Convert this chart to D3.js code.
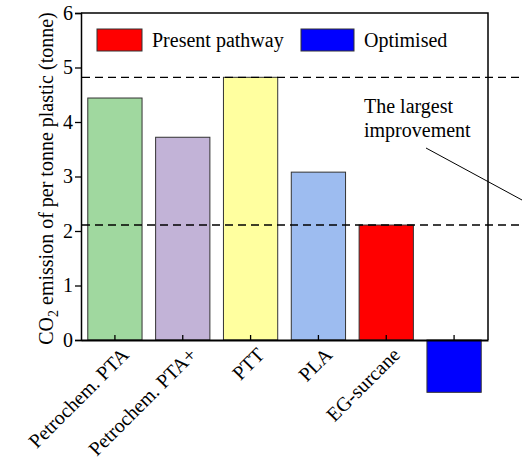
<!doctype html>
<html lang="en">
<head>
<meta charset="utf-8">
<title>CO2 emission per tonne plastic</title>
<script src="https://cdn.jsdelivr.net/npm/d3@7"></script>
<style>
  body { margin: 0; background: #fff; }
  .bar { stroke: #333; stroke-width: 1; }
  .ref { fill: none; stroke: #000; stroke-width: 1.3; stroke-dasharray: 8,5; }
</style>
</head>
<body>
<svg width="522" height="459"></svg>
<script>

// data
var categories = ["Petrochem. PTA", "Petrochem. PTA+", "PTT", "PLA", "EG-surcane", "Optimised"];
var tickLabels = ["Petrochem. PTA", "Petrochem. PTA+", "PTT", "PLA", "EG-surcane", ""];
var values = [4.44, 3.72, 4.82, 3.08, 2.11, -0.96];
var colors = ["#a0d89f", "#c2b3d7", "#ffff9f", "#9dbcf0", "#ff0000", "#0000ff"];
var refLines = [4.82, 2.11];
var yTicks = [0, 1, 2, 3, 4, 5, 6];
var legendNames = ["Present pathway", "Optimised"];
var legendColors = ["#ff0000", "#0000ff"];

var serif = "Liberation Serif";

var svg = d3.select("svg"),
    margin = {top: 13, right: 34, bottom: 119, left: 81},
    width = 522 - margin.left - margin.right,
    height = 459 - margin.top - margin.bottom,
    g = svg.append("g").attr("transform", "translate(" + margin.left + "," + margin.top + ")");

var x = d3.scaleBand().domain(categories).range([0, width]).paddingInner(0.2).paddingOuter(0.1),
    y = d3.scaleLinear().domain([0, 6]).range([height, 0]);

// bars
g.selectAll(".bar")
  .data(values)
  .enter().append("rect")
    .attr("class", "bar")
    .attr("x", function(d, i) { return x(categories[i]); })
    .attr("width", x.bandwidth())
    .attr("y", function(d) { return y(Math.max(0, d)); })
    .attr("height", function(d) { return Math.abs(y(d) - y(0)); })
    .style("fill", function(d, i) { return colors[i]; });

// frame: top and right
g.append("path")
    .attr("d", "M0,0H" + width + "V" + height)
    .attr("fill", "none").attr("stroke", "#000").attr("stroke-width", 1.5);

// y axis
var yAxis = g.append("g")
    .call(d3.axisLeft(y).tickValues(yTicks).tickFormat(d3.format("d")).tickSize(6).tickPadding(2));
yAxis.attr("font-family", serif).attr("font-size", 20);
yAxis.select(".domain").attr("stroke-width", 1.5);
yAxis.selectAll(".tick line").attr("stroke-width", 1.3);

// x axis at zero, ticks pointing inward
var xAxis = g.append("g")
    .attr("transform", "translate(0," + y(0) + ")")
    .call(d3.axisTop(x).tickSize(5).tickSizeOuter(0).tickFormat(""));
xAxis.select(".domain").attr("stroke-width", 2);
xAxis.selectAll(".tick line").attr("stroke-width", 1.3);

// rotated category labels
g.append("g").selectAll("text")
  .data(tickLabels)
  .enter().append("text")
    .attr("transform", function(d, i) {
      return "translate(" + (x(categories[i]) + x.bandwidth() / 2 + 15) + "," + (y(0) + 16) + ") rotate(-45)";
    })
    .attr("text-anchor", "end")
    .attr("font-family", serif)
    .attr("font-size", 20)
    .text(function(d) { return d; });

// dashed reference lines, running out past the frame
g.selectAll(".ref")
  .data(refLines)
  .enter().append("line")
    .attr("class", "ref")
    .attr("x1", 1)
    .attr("x2", 522 - margin.left)
    .attr("y1", function(d) { return y(d); })
    .attr("y2", function(d) { return y(d); });

// y label
var ylab = svg.append("text")
    .attr("transform", "translate(53," + (margin.top + height / 2 + 2) + ") rotate(-90)")
    .attr("text-anchor", "middle")
    .attr("font-family", serif)
    .attr("font-size", 20);
ylab.append("tspan").text("CO");
ylab.append("tspan").attr("dy", 5).attr("font-size", 14).text("2");
ylab.append("tspan").attr("dy", -5).text(" emission of per tonne plastic (tonne)");

// legend
var legendX = [16, 220], legendW = [45, 53];
var legend = g.selectAll(".legend")
  .data(legendNames)
  .enter().append("g")
    .attr("class", "legend")
    .attr("transform", function(d, i) { return "translate(" + legendX[i] + ",16)"; });
legend.append("rect")
    .attr("width", function(d, i) { return legendW[i]; })
    .attr("height", 22)
    .attr("stroke", "#333")
    .style("fill", function(d, i) { return legendColors[i]; });
legend.append("text")
    .attr("x", function(d, i) { return legendW[i] + 10; })
    .attr("y", 18)
    .attr("font-family", serif)
    .attr("font-size", 20)
    .text(function(d) { return d; });

// annotation
var note = g.append("text")
    .attr("x", 283)
    .attr("y", 100)
    .attr("font-family", serif)
    .attr("font-size", 20);
note.append("tspan").attr("x", 283).text("The largest");
note.append("tspan").attr("x", 283).attr("dy", 24).text("improvement");

g.append("line")
    .attr("x1", 345).attr("y1", 135)
    .attr("x2", 441).attr("y2", 187)
    .attr("stroke", "#000").attr("stroke-width", 1);

</script>
</body>
</html>
